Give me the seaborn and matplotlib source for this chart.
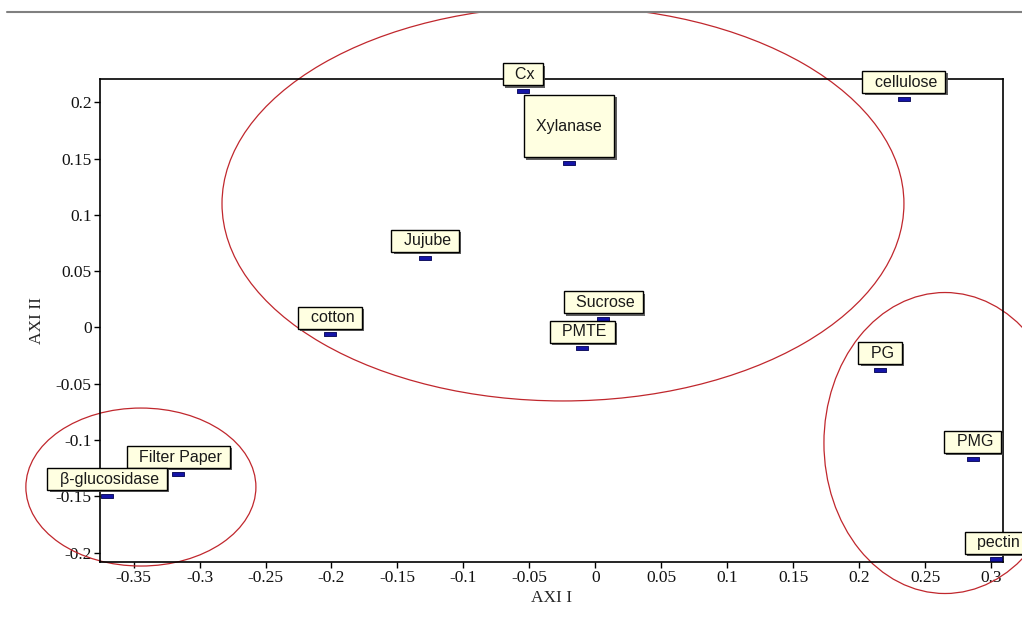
import numpy as np
import pandas as pd
import seaborn as sns
import matplotlib.pyplot as plt
import matplotlib.patheffects as pe
from matplotlib.patches import Ellipse, Rectangle
from matplotlib.lines import Line2D
from matplotlib.path import Path
from matplotlib.ticker import FuncFormatter, MultipleLocator

# data
names = ['Cx', 'Xylanase', 'cellulose', 'Jujube', 'Sucrose', 'PMTE', 'cotton',
         'PG', 'PMG', 'pectin', 'Filter Paper', 'β-glucosidase']
axi1 = [-0.055, -0.020, 0.234, -0.129, 0.006, -0.010, -0.201,
        0.216, 0.286, 0.304, -0.316, -0.370]
axi2 = [0.210, 0.146, 0.203, 0.062, 0.0075, -0.0185, -0.006,
        -0.0375, -0.1165, -0.206, -0.130, -0.1494]

# group ellipses (centre x, centre y, width, height in data units)
group_x = [-0.0245, -0.3445, 0.2651]
group_y = [0.110, -0.1417, -0.1026]
group_w = [0.517, 0.1744, 0.1835]
group_h = [0.3505, 0.1403, 0.2673]

df = pd.DataFrame({'name': names, 'AXI I': axi1, 'AXI II': axi2})

sns.set_style('white')
plt.rcParams['axes.unicode_minus'] = False
plt.rcParams['font.family'] = ['Liberation Serif', 'DejaVu Serif']

fig = plt.figure(figsize=(10.22, 6.19), dpi=100)
ax = fig.add_axes([100 / 1022, 1 - 561.7 / 619, 903 / 1022, (561.7 - 79.3) / 619])

# small flat blue bar markers
bar = Path([(-1, -0.3), (1, -0.3), (1, 0.3), (-1, 0.3), (-1, -0.3)],
           [Path.MOVETO, Path.LINETO, Path.LINETO, Path.LINETO, Path.CLOSEPOLY])
sns.scatterplot(data=df, x='AXI I', y='AXI II', marker=bar, s=83, color='#1414a8',
                edgecolor='#000050', linewidth=0.6, ax=ax, zorder=3, clip_on=False)

ax.set_xlim(-0.3755, 0.3091)
ax.set_ylim(-0.208, 0.2204)
ax.xaxis.set_major_locator(MultipleLocator(0.05))
ax.yaxis.set_major_locator(MultipleLocator(0.05))
fmt = FuncFormatter(lambda v, p: '0' if abs(v) < 1e-9 else ('%.2f' % v).rstrip('0'))
ax.xaxis.set_major_formatter(fmt)
ax.yaxis.set_major_formatter(fmt)
ax.tick_params(axis='both', direction='out', length=4, width=1, color='black',
               labelsize=12.5, pad=2, bottom=True, left=True, labelcolor='#111111')
for s in ax.spines.values():
    s.set_color('black')
    s.set_linewidth(1.2)
ax.set_xlabel('AXI I', fontsize=12.5, labelpad=3)
ax.set_ylabel('AXI II', fontsize=12.5, labelpad=8)

# labels in yellow tooltip boxes with a shadow
for i, row in df.iterrows():
    if row['name'] == 'Xylanase':
        txt = '\n  Xylanase  \n'
    else:
        txt = '  ' + row['name'] + ' '
    t = ax.annotate(txt, (row['AXI I'], row['AXI II']), xytext=(0, 6.6),
                    textcoords='offset points', ha='center', va='bottom',
                    fontsize=11.5, family=['Liberation Sans', 'DejaVu Sans'],
                    color='#1a1a1a', zorder=5 + i, annotation_clip=False,
                    linespacing=1.45,
                    bbox=dict(boxstyle='square,pad=0.22', fc='#ffffe1', ec='black', lw=1))
    t.get_bbox_patch().set_path_effects([
        pe.withSimplePatchShadow(offset=(1.6, -1.6), shadow_rgbFace='0.3', alpha=0.9)])

# group ellipses, the big one cut only at the top rule
top_clip = Rectangle((0, 0), 1, 1 - 12 / 619, transform=fig.transFigure)
for j in range(len(group_x)):
    e = Ellipse((group_x[j], group_y[j]), group_w[j], group_h[j], fill=False,
                ec='#c0272d', lw=0.9, zorder=2)
    ax.add_patch(e)
    if j == 0:
        e.set_clip_path(top_clip)
    else:
        e.set_clip_on(False)

fig.add_artist(Line2D([7 / 1022, 1], [1 - 12 / 619, 1 - 12 / 619],
                      transform=fig.transFigure, color='#808080', lw=1.5))

fig.savefig('out.png', dpi=100)
